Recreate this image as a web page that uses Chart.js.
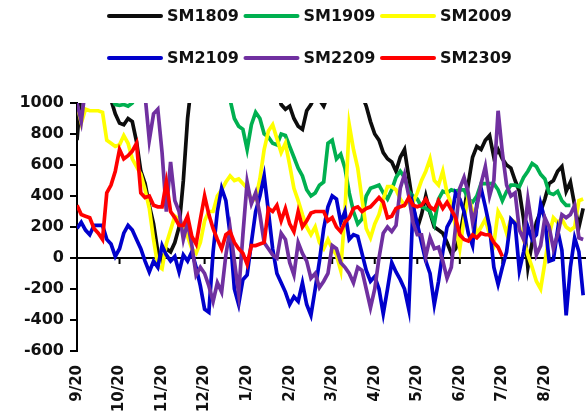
<!DOCTYPE html>
<html lang="en">
<head>
  <meta charset="UTF-8">
  <title>SM seasonal spread</title>
  <script src="https://cdn.jsdelivr.net/npm/chart.js@4"></script>
  <style>
    html, body { margin: 0; padding: 0; background: #fff; }
  </style>
</head>
<body>
  <canvas id="chart" width="587" height="417"></canvas>

  <script>
    // --- DATA ---
    // one value every 3 days, starting on 9/20
    const days = Array.from({ length: 120 }, (_, i) => i * 3);
    const tickDays = [0, 30, 60, 90, 120, 150, 180, 210, 240, 270, 300, 330];
    const tickLabels = ['9/20', '10/20', '11/20', '12/20', '1/20', '2/20', '3/20', '4/20', '5/20', '6/20', '7/20', '8/20'];
    const seriesNames = ['SM1809', 'SM1909', 'SM2009', 'SM2109', 'SM2209', 'SM2309'];
    const seriesColors = ['#0d0d0d', '#00b050', '#ffff00', '#0000cc', '#7030a0', '#ff0000'];

    const sm1809 = [
      760, 1100, 1300, 1400, 1400, 1350, 1300, 1150, 1020, 930,
      870, 860, 900, 880, 750, 560, 480, 340, 220, 40,
      -10, 60, 40, 100, 200, 500, 900, 1150, 1300, 1500,
      1600, 1700, 1700, 1600, 1500, 1600, 1500, 1400, 1300, 1300,
      1200, 1150, 1100, 1100, 1150, 1100, 1050, 1100, 990, 960,
      980, 900, 850, 830, 950, 990, 1050, 1020, 980, 1050,
      1100, 1200, 1250, 1200, 1150, 1100, 1050, 1050, 980, 880,
      800, 760, 680, 640, 620, 560, 650, 700, 520, 340,
      190, 280, 400, 290, 200, 180, 160, 100, 30, 60,
      140, 300, 480, 650, 720, 700, 760, 790, 650, 700,
      640, 600, 580, 500, 430, 250, -60, 100, 230, 300,
      380, 480, 500, 560, 590, 430, 490, 340, 200, 320
    ];
    const sm1909 = [
      1200, 1250, 1300, 1250, 1200, 1150, 1100, 1080, 1040, 990,
      985, 990, 980, 1000, 1050, 1100, 1150, 1200, 1250, 1300,
      1350, 1400, 1400, 1450, 1400, 1350, 1300, 1250, 1300, 1350,
      1300, 1250, 1200, 1150, 1100, 1080, 1020, 900, 850, 830,
      700, 860, 940, 900, 800, 780, 740, 730, 800, 790,
      720, 650, 580, 530, 440, 400, 420, 470, 490, 740,
      760, 640, 670, 580, 420, 300, 220, 250, 400, 450,
      460, 470, 420, 380, 440, 520, 560, 520, 430, 400,
      380, 330, 320, 300, 220, 380, 430, 420, 440, 430,
      440, 440, 380, 360, 400, 480, 480, 480, 480, 440,
      370, 430, 470, 470, 460, 520, 560, 610, 590, 540,
      510, 420, 410, 430, 370, 340, 340, null, null, null
    ];
    const sm2009 = [
      990, 870, 960, 950, 950, 950, 940, 760, 740, 720,
      730, 790, 740, 640, 590, 540, 440, 320, 120, -50,
      -70, 90, 180, 270, 250, 200, 140, 60, 30, 100,
      240, 300, 300, 400, 440, 490, 530, 500, 510, 480,
      450, 370, 380, 510, 700, 820, 860, 770, 680, 740,
      600, 450, 370, 280, 200, 150, 200, 100, 60, 120,
      60, 20, -80, 300, 860, 700, 580, 380, 190, 130,
      220, 280, 380, 460, 460, 440, 380, 340, 370, 360,
      420, 500, 560, 640, 500, 470, 560, 420, 350, 200,
      60, 250, 400, 300, 150, 200, 250, 150, 90, 300,
      250, 160, 250, 230, 200, 120, 20, -60, -150, -200,
      -30, 150, 260, 230, 250, 200, 180, 200, 370, 380
    ];
    const sm2109 = [
      190, 230, 180, 150, 210, 210, 210, 120, 90, 10,
      60, 160, 210, 180, 120, 60, -20, -90, -20, -60,
      80, 20, -20, 10, -90, 20, -20, 40, -60, -180,
      -330, -350, 40, 300, 450, 370, 150, -200, -300, -140,
      -110, 100, 300, 400, 530, 300, 60, -100, -160, -220,
      -300, -250, -280, -160, -300, -370, -200, -20, 190, 330,
      400, 380, 230, 300, 120, 150, 140, 30, -80, -150,
      -120, -200, -360, -200, -30, -90, -140, -200, -330, 340,
      220, 100, -20, -100, -300, -150, 40, 200, 250, 420,
      380, 300, 160, 80, 350, 450, 330, 200, -60, -170,
      -60, 40, 250, 220, -80, 40, 200, 120, 150, 350,
      250, -20, -10, 180, 50, -370, -60, 130, 40, -240
    ];
    const sm2209 = [
      1000, 880, 1100, 1300, 1400, 1500, 1500, 1400, 1400, 1300,
      1300, 1250, 1200, 1200, 1150, 1100, 1050, 760, 930, 960,
      680, 300, 620, 370, 300, 120, 230, 80, -110, -60,
      -100, -180, -280, -160, -220, 20, 190, -20, -230, 150,
      490, 350, 420, 280, 100, 60, 20, 0, 160, 120,
      -30, -110, 100, 30, -20, -130, -100, -190, -150, -100,
      80, 60, -30, -60, -100, -160, -60, -80, -200, -320,
      -200, 0, 160, 200, 170, 210, 450, 540, 400, 230,
      150, 150, 10, 130, 60, 70, -20, -130, -60, 200,
      450, 520, 420, 230, 330, 480, 590, 400, 500, 950,
      680, 470, 400, 420, 180, 120, 380, 200, 20, 80,
      260, 200, 60, 150, 280, 260, 280, 340, 130, 120
    ];
    const sm2309 = [
      340, 280, 270, 260, 190, 160, 120, 420, 470, 560,
      700, 640, 660, 690, 740, 420, 390, 400, 340, 330,
      330, 490, 300, 260, 210, 210, 270, 140, 90, 250,
      400, 280, 190, 120, 60, 150, 170, 100, 60, 30,
      -40, 80, 80, 90, 100, 320, 300, 340, 240, 320,
      220, 170, 300, 200, 240, 290, 300, 300, 300, 240,
      260, 200, 170, 230, 260, 320, 330, 300, 320, 330,
      360, 390, 360, 260, 270, 320, 330, 340, 390, 340,
      330, 340, 380, 330, 310, 370, 320, 360, 310, 260,
      150, 120, 110, 150, 130, 160, 150, 150, 100, 70,
      10, null, null, null, null, null, null, null, null, null,
      null, null, null, null, null, null, null, null, null, null
    ];
    const seriesValues = [sm1809, sm1909, sm2009, sm2109, sm2209, sm2309];

    const FONT_Y = { family: '"DejaVu Sans", sans-serif', size: 16, weight: 'bold' };
    const FONT_X = { family: '"DejaVu Sans", sans-serif', size: 15, weight: 'bold' };

    // --- PLUGINS ---
    // small tick marks hanging below the zero line
    const zeroLineTicks = {
      id: 'zeroLineTicks',
      beforeDatasetsDraw(chart) {
        const { ctx, scales: { x, y } } = chart;
        const y0 = y.getPixelForValue(0);
        ctx.save();
        ctx.strokeStyle = '#000';
        ctx.lineWidth = 2;
        x.ticks.forEach(t => {
          const px = x.getPixelForValue(t.value);
          ctx.beginPath();
          ctx.moveTo(px, y0);
          ctx.lineTo(px, y0 + 6);
          ctx.stroke();
        });
        ctx.restore();
      }
    };

    // two-row legend with line samples
    const lineLegend = {
      id: 'lineLegend',
      afterDraw(chart) {
        const ctx = chart.ctx;
        ctx.save();
        ctx.font = 'bold 16px "DejaVu Sans", sans-serif';
        ctx.textBaseline = 'middle';
        chart.data.datasets.forEach((ds, i) => {
          const x = 109 + (i % 3) * 136.5;
          const y = 16 + Math.floor(i / 3) * 42;
          ctx.strokeStyle = ds.borderColor;
          ctx.lineWidth = 4;
          ctx.lineCap = 'round';
          ctx.beginPath();
          ctx.moveTo(x, y);
          ctx.lineTo(x + 52, y);
          ctx.stroke();
          ctx.fillStyle = '#111';
          ctx.fillText(ds.label, x + 58, y + 1);
        });
        ctx.restore();
      }
    };

    // --- CHART ---
    new Chart(document.getElementById('chart'), {
      type: 'line',
      data: {
        labels: days,
        datasets: seriesNames.map((name, i) => ({
          label: name,
          data: seriesValues[i],
          borderColor: seriesColors[i],
          borderWidth: 3.7,
          pointRadius: 0,
          tension: 0,
          clip: 0,
          order: seriesNames.length - i
        }))
      },
      options: {
        responsive: false,
        devicePixelRatio: 1,
        animation: false,
        layout: { padding: { top: 103, left: 18, right: 1, bottom: 0 } },
        plugins: { legend: { display: false }, tooltip: { enabled: false } },
        scales: {
          x: {
            type: 'linear',
            min: 0,
            max: 359,
            grid: { display: false, drawTicks: false },
            border: { display: false },
            afterBuildTicks: scale => { scale.ticks = tickDays.map(v => ({ value: v })); },
            afterFit: scale => { scale.height = 66; },
            ticks: {
              autoSkip: false,
              minRotation: 90,
              maxRotation: 90,
              padding: 14,
              color: '#111',
              font: FONT_X,
              callback: (v, idx) => tickLabels[idx]
            }
          },
          y: {
            min: -600,
            max: 1000,
            afterFit: scale => { scale.width = 59; },
            ticks: { stepSize: 200, color: '#111', font: FONT_Y, padding: 6, callback: v => String(v) },
            grid: {
              color: c => (c.tick && c.tick.value === 0) ? '#000' : 'rgba(0,0,0,0)',
              lineWidth: 2,
              tickColor: '#000',
              tickLength: 7,
              tickWidth: 2
            },
            border: { display: true, color: '#000', width: 2 }
          }
        }
      },
      plugins: [zeroLineTicks, lineLegend]
    });
  </script>
</body>
</html>
